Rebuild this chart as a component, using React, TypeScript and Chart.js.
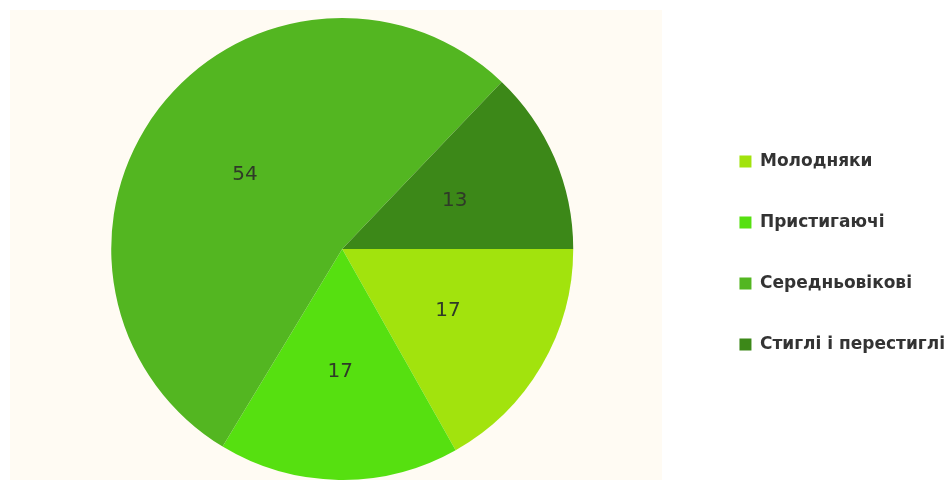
import React, { useEffect, useRef } from "react";
import { Chart, registerables } from "chart.js";

Chart.register(...registerables);

const categories = ["Молодняки", "Пристигаючі", "Середньовікові", "Стиглі і перестиглі"];
const values = [17, 17, 54, 13];
const colors = ["#A2E30D", "#56E010", "#53B621", "#3C8818"];

const sliceLabels = {
  id: "sliceLabels",
  afterDatasetsDraw(chart: any) {
    const ctx = chart.ctx;
    const meta = chart.getDatasetMeta(0);
    ctx.save();
    ctx.font = "20px 'DejaVu Sans'";
    ctx.fillStyle = "#2f3a28";
    ctx.textAlign = "center";
    ctx.textBaseline = "middle";
    meta.data.forEach((arc: any, i: number) => {
      const p = arc.getProps(["x", "y", "startAngle", "endAngle", "outerRadius"], true);
      const mid = (p.startAngle + p.endAngle) / 2;
      const r = p.outerRadius * 0.53;
      ctx.fillText(String(values[i]), p.x + Math.cos(mid) * r, p.y + Math.sin(mid) * r);
    });
    ctx.restore();
  },
};

export default function App() {
  const ref = useRef<HTMLCanvasElement>(null);
  useEffect(() => {
    if (!ref.current) return;
    const chart = new Chart(ref.current, {
      type: "pie",
      data: {
        labels: categories,
        datasets: [
          {
            data: values,
            backgroundColor: colors,
            borderWidth: 0,
          },
        ],
      },
      options: {
        animation: false,
        responsive: false,
        rotation: 90,
        layout: { padding: { top: 18, left: 0, right: 0, bottom: 0 } },
        plugins: {
          tooltip: { enabled: false },
          legend: {
            position: "right",
            title: {
              display: true,
              text: "",
              color: "rgba(0,0,0,0)",
              font: { size: 5 },
              padding: 1,
            },
            labels: {
              boxWidth: 12,
              boxHeight: 12,
              padding: 44,
              color: "#333333",
              font: { family: "'DejaVu Sans'", size: 17, weight: "bold" },
            },
          },
        },
      },
      plugins: [sliceLabels],
    });
    return () => chart.destroy();
  }, []);
  return (
    <div style={{ position: "fixed", left: 0, top: 0, width: 949, height: 480, overflow: "hidden", background: "#ffffff" }}>
      <div style={{ position: "absolute", left: 10, top: 10, width: 652, height: 470, background: "#FFFBF3" }} />
      <canvas ref={ref} width={966} height={480} style={{ position: "absolute", left: -11, top: 0 }} />
    </div>
  );
}
